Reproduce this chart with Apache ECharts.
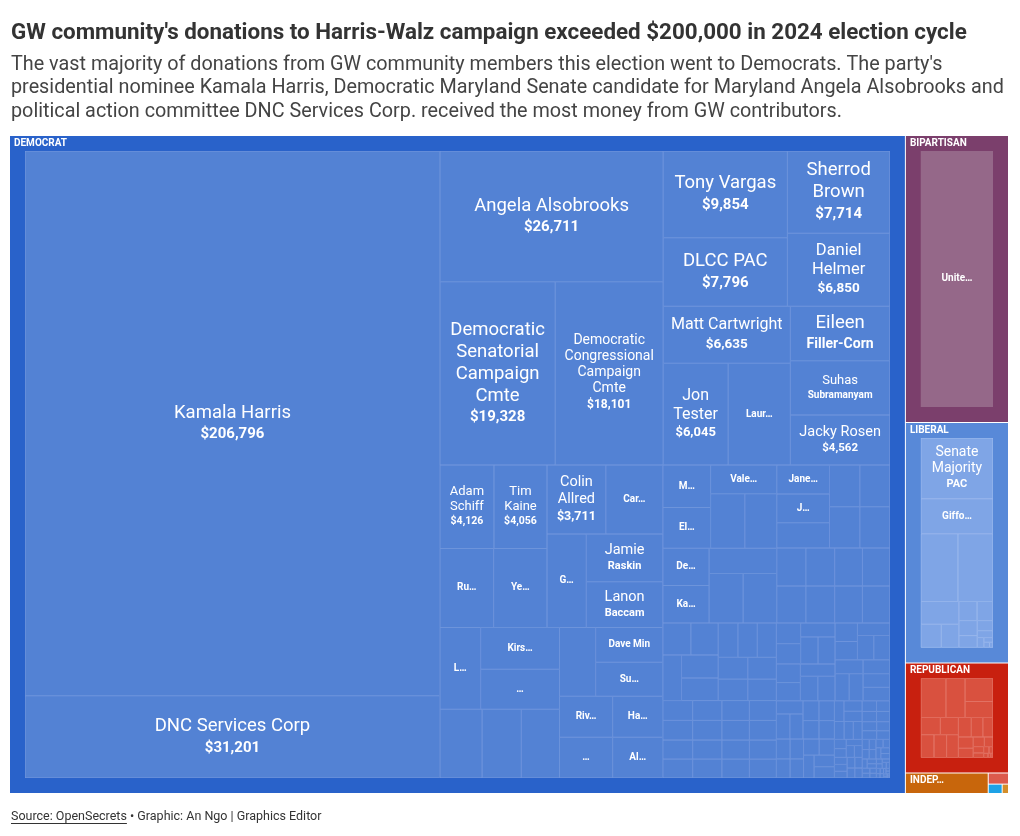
<!DOCTYPE html>
<html>
<head>
<meta charset="utf-8">
<script src="https://cdn.jsdelivr.net/npm/echarts@6/dist/echarts.min.js"></script>
<style>
html,body{margin:0;padding:0;background:#fff;}
#chart{width:1020px;height:836px;}
</style>
</head>
<body>
<div id="chart"></div>
<script>
// ---------------- DATA ----------------
const groupNames = ['DEMOCRAT', 'BIPARTISAN', 'LIBERAL', 'REPUBLICAN', 'INDEPENDENT', 'OTHER 1', 'OTHER 2', 'OTHER 3'];

const demNames = ['Kamala Harris', 'DNC Services Corp', 'Angela Alsobrooks', 'Democratic Senatorial Campaign Cmte',
  'Democratic Congressional Campaign Cmte', 'Tony Vargas', 'DLCC PAC', 'Sherrod Brown', 'Daniel Helmer',
  'Matt Cartwright', 'Jon Tester', 'Laur…', 'Eileen Filler-Corn', 'Suhas Subramanyam', 'Jacky Rosen',
  'Adam Schiff', 'Tim Kaine', 'Ru…', 'Ye…', 'Colin Allred', 'Car…', 'G…', 'Jamie Raskin', 'Lanon Baccam',
  'L…', 'Kirs…', '…', 'Dave Min', 'Su…', 'Riv…', '…', 'Ha…', 'Al…', 'M…', 'El…', 'Vale…', 'De…', 'Ka…',
  'Jane…', 'J…'];
const demValues = [206796, 31201, 26711, 19328, 18101, 9854, 7796, 7714, 6850, 6635, 6045, 5786, 4960, 4930, 4562,
  4126, 4056, 3870, 3850, 3711, 3600, 3354, 3338, 3198, 3050, 3020, 2890, 2145, 2084, 2000, 1980, 1890, 1870,
  1850, 1780, 1740, 1585, 1580, 1400, 1380];
// recipients too small to carry a label
const demUnlabeledValues = [2651, 2462, 2399, 2273, 1700, 1590, 1570, 1540, 1520, 1220, 1160, 1150, 1140, 1130,
  1010, 1000, 985, 975, 965, 955, 940, 930, 820, 800, 780, 770, 760, 620, 610, 600, 590, 580, 570, 560,
  540, 535, 530, 525, 520, 515, 510, 505, 500, 495, 490, 485, 480, 475, 470, 465,
  460, 450, 440, 430, 420, 410, 400, 395, 390, 385, 380, 375, 370, 365, 360, 355, 350, 345, 340, 335, 330,
  320, 310, 300, 290, 280, 270, 260, 250, 245, 240, 235, 230, 225, 220, 215, 210,
  180, 175, 170, 160, 150, 145, 140, 135, 130, 125, 120, 115, 110, 105, 100, 95, 90, 88, 85, 82, 80, 78, 75,
  72, 70, 68, 65, 62, 60, 58, 55, 52, 50, 48, 45, 42, 40, 38, 35, 33, 30, 28, 26, 25, 24, 22, 20, 18, 16, 15,
  14, 12, 10, 10, 8, 6, 5, 5];

const bipNames = ['Unite…'];
const bipValues = [24900];

const libNames = ['Senate Majority PAC', 'Giffo…'];
const libValues = [6058, 3476];
const libUnlabeledValues = [3470, 3283, 1200, 650, 560, 480, 420, 380, 300, 220, 150, 90, 60, 40, 25];

const repUnlabeledValues = [1640, 1250, 1080, 750, 560, 520, 500, 480, 450, 420, 380, 330, 280, 230, 180, 140,
  110, 80, 60, 45, 30, 20, 15];

const indepValue = 1430;
const otherValues = [190, 110, 50];

// ---------------- STYLE ----------------
const FONT = "Roboto, 'Noto Sans', sans-serif";
const COL = {
  DEMOCRAT:   { bg: '#2962ca', leaf: '#5382d4', line: '#7699de' },
  BIPARTISAN: { bg: '#7b3f6c', leaf: '#956889', line: '#a98198' },
  LIBERAL:    { bg: '#5889d8', leaf: '#7fa5e6', line: '#a0bcee' },
  REPUBLICAN: { bg: '#c8200f', leaf: '#d9513f', line: '#e57d70' },
  INDEPENDENT:{ bg: '#c8660c' },
  'OTHER 1':  { bg: '#dc5a4c' },
  'OTHER 2':  { bg: '#1ea2e6' },
  'OTHER 3':  { bg: '#d48e2a' }
};

const labelFmt = {
  'Kamala Harris': { n: 18.5, v: 15 },
  'DNC Services Corp': { n: 18.5, v: 15 },
  'Angela Alsobrooks': { n: 18.5, v: 15 },
  'Democratic Senatorial Campaign Cmte': { n: 18.5, v: 15, t: 'Democratic\nSenatorial\nCampaign\nCmte' },
  'Democratic Congressional Campaign Cmte': { n: 14, v: 12, t: 'Democratic\nCongressional\nCampaign\nCmte' },
  'Tony Vargas': { n: 18.5, v: 15 },
  'DLCC PAC': { n: 18.5, v: 15 },
  'Sherrod Brown': { n: 18.5, v: 15, t: 'Sherrod\nBrown' },
  'Daniel Helmer': { n: 16.5, v: 13.5, t: 'Daniel\nHelmer' },
  'Matt Cartwright': { n: 16, v: 13.5 },
  'Jon Tester': { n: 16, v: 13, t: 'Jon\nTester' },
  'Eileen Filler-Corn': { n: 18.5, b: 14, t: 'Eileen', bt: 'Filler-Corn' },
  'Suhas Subramanyam': { n: 13, b: 10, t: 'Suhas', bt: 'Subramanyam' },
  'Jacky Rosen': { n: 14.5, v: 11.5 },
  'Adam Schiff': { n: 13, v: 10.5, t: 'Adam\nSchiff' },
  'Tim Kaine': { n: 13, v: 10.5, t: 'Tim\nKaine' },
  'Colin Allred': { n: 14.5, v: 12.5, t: 'Colin\nAllred' },
  'Jamie Raskin': { n: 14.5, b: 11, t: 'Jamie', bt: 'Raskin' },
  'Lanon Baccam': { n: 14.5, b: 11, t: 'Lanon', bt: 'Baccam' },
  'Senate Majority PAC': { n: 14, b: 11, t: 'Senate\nMajority', bt: 'PAC' }
};
const smallLabels = new Set(['Laur…', 'Car…', 'Ru…', 'Ye…', 'G…', 'L…', 'Kirs…', '…', 'Dave Min', 'Su…', 'Riv…',
  'Ha…', 'Al…', 'M…', 'El…', 'Vale…', 'De…', 'Ka…', 'Jane…', 'J…', 'Unite…', 'Giffo…']);
const SMALL_LH = 12;

const rich = {
  s: { fontSize: 10, fontWeight: 'bold', fontFamily: FONT, color: '#fff', lineHeight: SMALL_LH },
  h: { fontSize: 10, fontWeight: 'bold', fontFamily: FONT, color: '#fff', lineHeight: 15 }
};
function rkey(p, s) { return p + String(s).replace('.', '_'); }
function nameLH(s) { return Math.round(s * 1.17); }
function valLH(s) { return Math.round(s * 1.4); }
Object.values(labelFmt).forEach(sp => {
  rich[rkey('n', sp.n)] = { fontSize: sp.n, fontFamily: FONT, color: '#fff', lineHeight: nameLH(sp.n) };
  const b = sp.v || sp.b;
  rich[rkey('v', b)] = { fontSize: b, fontWeight: 'bold', fontFamily: FONT, color: '#fff', lineHeight: valLH(b) };
});

function fmtLabel(p) {
  const d = p.data || {};
  if (d.children) return '';
  const name = p.name;
  if (smallLabels.has(name)) return '{s|' + name + '}';
  const sp = labelFmt[name];
  if (!sp) return '';
  const val = Array.isArray(p.value) ? p.value[0] : p.value;
  const lines = (sp.t || name).split('\n').map(l => '{' + rkey('n', sp.n) + '|' + l + '}');
  if (sp.v) lines.push('{' + rkey('v', sp.v) + '|$' + Number(val).toLocaleString('en-US') + '}');
  if (sp.bt) lines.push('{' + rkey('v', sp.b) + '|' + sp.bt + '}');
  return lines.join('\n');
}
function labelHeight(name) {
  if (smallLabels.has(name)) return SMALL_LH;
  const sp = labelFmt[name];
  if (!sp) return 0;
  return (sp.t || name).split('\n').length * nameLH(sp.n) + valLH(sp.v || sp.b);
}

// ---------------- HIERARCHY (binary partition by value, like d3.treemapBinary) ----------------
function makeLeaves(names, values, unlabeled, col, bw) {
  const items = [];
  names.forEach((n, i) => items.push({ name: n, value: values[i] }));
  (unlabeled || []).forEach(v => items.push({ name: '', value: v }));
  items.sort((a, b) => b.value - a.value);
  return items.map(it => ({
    name: it.name, value: it.value,
    itemStyle: { color: col.leaf, borderColor: col.line, borderWidth: bw }
  }));
}
function binary(items, col) {
  if (items.length === 1) return items[0];
  const n = items.length;
  const sums = [0];
  for (let i = 0; i < n; i++) sums.push(sums[i] + items[i].value);
  const target = sums[n] / 2;
  let k = 1;
  while (k < n - 1 && sums[k] < target) k++;
  if (target - sums[k - 1] < sums[k] - target && k > 1) k--;
  return {
    name: '',
    children: [binary(items.slice(0, k), col), binary(items.slice(k), col)],
    itemStyle: { color: col.leaf, borderColor: col.leaf, borderWidth: 0, gapWidth: 0 },
    upperLabel: { show: false }
  };
}
function group(name, leaves) {
  const col = COL[name];
  const root = binary(leaves, col);
  return {
    name: name,
    children: root.children ? root.children : [root],
    itemStyle: { color: col.bg, borderColor: col.bg, borderWidth: 15, gapWidth: 0 },
    upperLabel: {
      show: true, height: 15, formatter: '{b}', color: '#fff', fontSize: 10, fontWeight: 'bold',
      fontFamily: FONT, padding: 0, position: [-11, '50%'], verticalAlign: 'middle'
    }
  };
}

const data = [
  group('DEMOCRAT', makeLeaves(demNames, demValues, demUnlabeledValues, COL.DEMOCRAT, 0.5)),
  group('BIPARTISAN', makeLeaves(bipNames, bipValues, [], COL.BIPARTISAN, 0)),
  group('LIBERAL', makeLeaves(libNames, libValues, libUnlabeledValues, COL.LIBERAL, 0.5)),
  group('REPUBLICAN', makeLeaves([], [], repUnlabeledValues, COL.REPUBLICAN, 0.5)),
  {
    name: groupNames[4], value: indepValue,
    itemStyle: { color: COL.INDEPENDENT.bg, borderWidth: 0 },
    label: { position: 'insideTopLeft', padding: [0, 0, 0, 4], formatter: '{h|INDEP…}' }
  }
].concat(otherValues.map((v, i) => ({
  name: groupNames[5 + i], value: v,
  itemStyle: { color: COL[groupNames[5 + i]].bg, borderWidth: 0 },
  label: { show: false }
})));

// ---------------- CHART ----------------
const chart = echarts.init(document.getElementById('chart'), null, { renderer: 'canvas' });

const ctx = document.createElement('canvas').getContext('2d');
const footFont = '12.5px ' + FONT;
ctx.font = footFont;
const srcText = 'Source: OpenSecrets';
const srcW = ctx.measureText(srcText).width;

chart.setOption({
  animation: false,
  backgroundColor: '#fff',
  title: {
    left: 11, top: 20, itemGap: 7, padding: 0,
    text: "GW community's donations to Harris-Walz campaign exceeded $200,000 in 2024 election cycle",
    subtext: "The vast majority of donations from GW community members this election went to Democrats. The party's\n" +
      "presidential nominee Kamala Harris, Democratic Maryland Senate candidate for Maryland Angela Alsobrooks and\n" +
      "political action committee DNC Services Corp. received the most money from GW contributors.",
    textStyle: { fontFamily: FONT, fontSize: 22.4, fontWeight: 'bold', color: '#333', lineHeight: 26 },
    subtextStyle: { fontFamily: FONT, fontSize: 19.8, color: '#444', lineHeight: 23.5 }
  },
  graphic: [
    { type: 'text', x: 11, y: 817, style: { text: srcText, font: footFont, fill: '#333', verticalAlign: 'middle' } },
    { type: 'line', shape: { x1: 11, y1: 823.5, x2: 11 + srcW, y2: 823.5 }, style: { stroke: '#333', lineWidth: 1 } },
    { type: 'text', x: 11 + srcW, y: 817, style: { text: ' • Graphic: An Ngo | Graphics Editor', font: footFont, fill: '#333', verticalAlign: 'middle' } }
  ],
  series: [{
    type: 'treemap',
    left: 10, top: 136, width: 998, height: 657,
    sort: false,
    squareRatio: 1e-9,
    roam: false,
    nodeClick: false,
    breadcrumb: { show: false },
    levels: [{ itemStyle: { borderWidth: 0, gapWidth: 1, borderColor: '#fff' } }],
    label: {
      show: true, position: 'inside', padding: 1, overflow: 'truncate', ellipsis: '…',
      formatter: fmtLabel, rich: rich, color: '#fff', fontFamily: FONT
    },
    emphasis: { disabled: true },
    data: data
  }]
});

// Centre each label block vertically inside its cell, using the cell size the treemap computed.
(function centreLabels() {
  const sm = chart.getModel().getSeriesByIndex(0);
  const tree = sm.getData().tree;
  function walk(node, item) {
    if (!node || !item) return;
    if (item.children && node.children && node.children.length) {
      item.children.forEach((c, i) => walk(node.children[i], c));
      return;
    }
    const lay = node.getLayout();
    const th = labelHeight(item.name);
    if (lay && th) {
      const bw = (item.itemStyle && item.itemStyle.borderWidth) || 0;
      const h = lay.height - 2 * bw;
      item.label = Object.assign({}, item.label || {}, { padding: [Math.max(0, (h - th) / 2), 1, 0, 1] });
    }
  }
  tree.root.children.forEach((n, i) => walk(n, data[i]));
  chart.setOption({ series: [{ data: data }] });
})();
</script>
</body>
</html>
